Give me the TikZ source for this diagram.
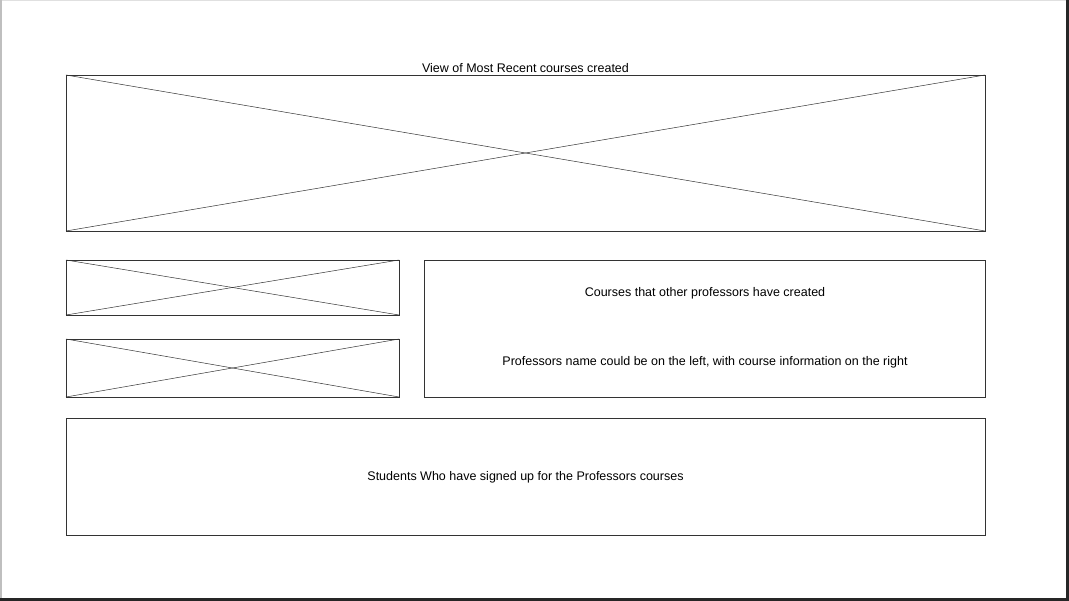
\documentclass[tikz,border=0pt]{standalone}
\usepackage{fontspec}
\setmainfont{Liberation Sans}
\usetikzlibrary{positioning}
\tikzset{panel/.style = {draw=black!80, line width=0.7pt, inner sep=0pt, outer sep=0pt, anchor=north west}}
\tikzset{cross/.style = {draw=black!80, line width=0.5pt}}
\tikzset{label/.style = {font=\fontsize{12.5}{14}\selectfont, inner sep=0pt}}

\begin{document}
\begin{tikzpicture}[x=1pt, y=-1pt]
            % Frame
            \fill[white] (0,0) rectangle (1069,601);
            \fill[black!12] (0,0) rectangle (1069,1.5);
            \fill[black!25] (0,0) rectangle (2,601);
            \fill[black!85] (1066,0) rectangle (1069,601);
            \fill[black!85] (0,598) rectangle (1069,601);
            \useasboundingbox (0,0) rectangle (1069,601);

            % Panels
            \node[panel, minimum width=919pt, minimum height=156pt] (recent) at (66,75) {};
            \node[panel, minimum width=333pt, minimum height=55pt] (first) at (66,260) {};
            \node[panel, minimum width=333pt, minimum height=58pt] (second) at (66,339) {};
            \node[panel, minimum width=561pt, minimum height=137pt] (others) at (424,260) {};
            \node[panel, minimum width=919pt, minimum height=117pt] (students) at (66,418) {};

            % Crosses
            \draw[cross] (recent.north west) -- (recent.south east);
            \draw[cross] (recent.south west) -- (recent.north east);
            \draw[cross] (first.north west) -- (first.south east);
            \draw[cross] (first.south west) -- (first.north east);
            \draw[cross] (second.north west) -- (second.south east);
            \draw[cross] (second.south west) -- (second.north east);

            % Labels
            \node[label, anchor=base] (title) at (525.5,72.5) {View of Most Recent courses created};
            \node[label] (otherstext) at (705,293) {Courses that other professors have created};
            \node[label] (nametext) at (705,362) {Professors name could be on the left, with course information on the right};
            \node[label] (studtext) at (525.5,477) {Students Who have signed up for the Professors courses};
        \end{tikzpicture}
\end{document}
